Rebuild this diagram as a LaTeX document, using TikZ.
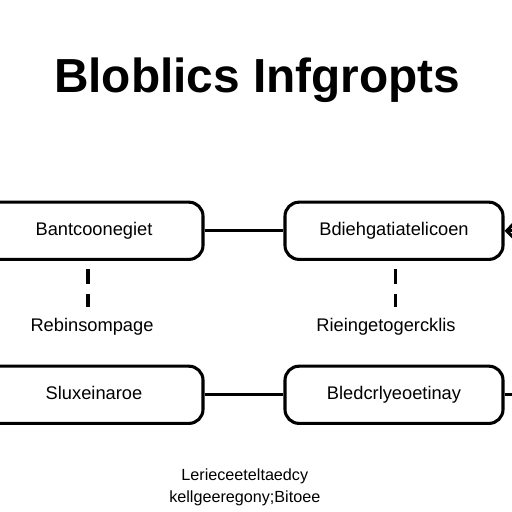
\documentclass[tikz,border=0pt]{standalone}
\usepackage{fontspec}
\setmainfont{Liberation Sans}
\usepackage{tikz}
\usetikzlibrary{arrows.meta,positioning,calc}

\begin{document}
\begin{tikzpicture}[
  blockbox/.style={draw, rounded corners=3.5mm, line width=2.2pt, minimum width=5.45cm, minimum height=1.43cm, text height=1.7ex, text depth=0.45ex, font=\fontsize{13}{15}\selectfont},
  steplabel/.style={font=\fontsize{13}{15}\selectfont},
  link/.style={line width=2.2pt},
  dashlink/.style={line width=2.2pt, dash pattern=on 0.38cm off 0.25cm, shorten <=0.2cm, shorten >=0.15cm}
]
  \useasboundingbox[fill=white] (0,0) rectangle (12.8,12.8);

  \node[font=\fontsize{34}{40}\selectfont\bfseries] (title) at (6.43,10.8) {Bloblics Infgropts};

  \node[blockbox] (b1) at (2.35,7.03) {Bantcoonegiet};
  \node[blockbox] (b2) at (9.85,7.03) {Bdiehgatiatelicoen};

  \node[steplabel] (l1) at (2.3,4.63) {Rebinsompage};
  \node[steplabel] (l2) at (9.65,4.63) {Rieingetogercklis};

  \node[blockbox] (b3) at (2.35,2.93) {Sluxeinaroe};
  \node[blockbox] (b4) at (9.85,2.93) {Bledcrlyeoetinay};

  \node[font=\fontsize{11.5}{15.5}\selectfont, align=center] (note) at (6.12,0.62) {Lerieceeteltaedcy\\kellgeeregony;Bitoee};

  \coordinate (inR) at (12.85,7.03);
  \coordinate (outR) at (12.8,2.93);
  \coordinate (dx1) at (2.2,0);
  \coordinate (dx2) at (9.88,0);

  \draw[link] (b1) -- (b2);
  \draw[link] (b3) -- (b4);
  \draw[link, -{Straight Barb[length=2.2mm,width=4.5mm]}] (inR) -- (b2.east);
  \draw[link] (b4.east) -- (outR);

  \draw[dashlink] (b1.south -| dx1) -- (l1.north -| dx1);
  \draw[dashlink] (b2.south -| dx2) -- (l2.north -| dx2);
\end{tikzpicture}
\end{document}
